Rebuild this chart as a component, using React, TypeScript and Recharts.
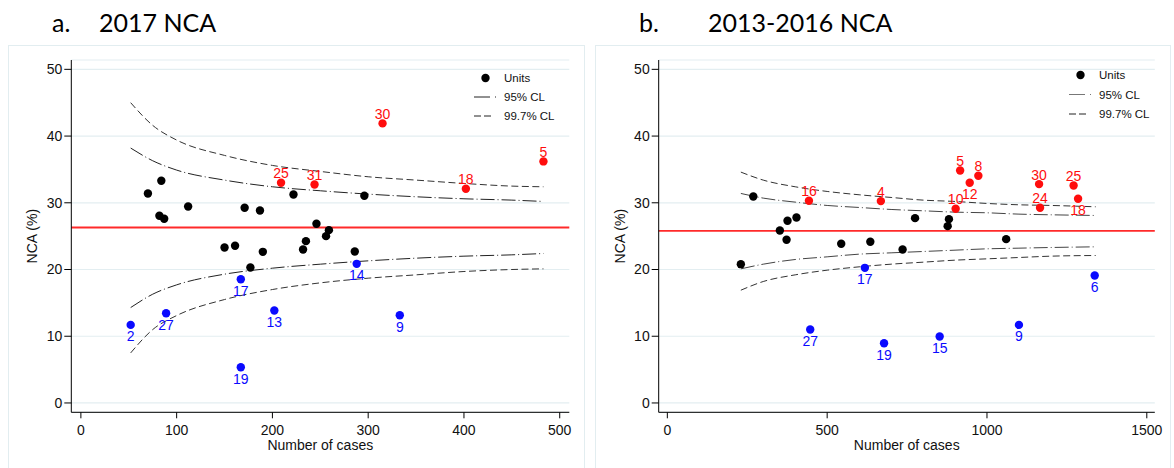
import React from "react";
import {
  CartesianGrid,
  ComposedChart,
  Line,
  ReferenceLine,
  Scatter,
  XAxis,
  YAxis,
} from "recharts";

const FONT = '"Liberation Sans", Arial, sans-serif';
const TITLE_FONT = 'Lato, "Open Sans", sans-serif';

const yTicks = [0, 10, 20, 30, 40, 50];
const aTicks = [0, 100, 200, 300, 400, 500];
const bTicks = [0, 500, 1000, 1500];

// panel a: 2017
const aMean = 26.3;
const aUnitCases = [70, 84, 82, 87, 112, 150, 161, 171, 177, 187, 190, 222, 232, 235, 246, 256, 259, 286, 296];
const aUnitNca = [31.4, 33.3, 28.05, 27.6, 29.45, 23.3, 23.55, 29.25, 20.3, 28.85, 22.65, 31.25, 23.0, 24.25, 26.85, 25.0, 25.9, 22.7, 31.05];
const aHighIds = ["25", "31", "30", "18", "5"];
const aHighCases = [209, 244, 315, 402, 483];
const aHighNca = [33.0, 32.75, 41.9, 32.1, 36.2];
const aLowIds = ["2", "27", "17", "19", "13", "14", "9"];
const aLowCases = [52, 89, 167, 167, 202, 288, 333];
const aLowNca = [11.7, 13.45, 18.55, 5.35, 13.85, 20.85, 13.15];
const aClCases = [52, 75, 100, 150, 200, 250, 300, 350, 400, 450, 483];
const aUpper95 = [38.2, 36.3, 34.9, 33.4, 32.4, 31.8, 31.3, 30.9, 30.6, 30.4, 30.2];
const aLower95 = [14.3, 16.3, 17.7, 19.3, 20.2, 20.8, 21.3, 21.7, 22.0, 22.2, 22.4];
const aUpper997 = [45.0, 41.6, 39.4, 37.1, 35.6, 34.7, 33.9, 33.4, 32.9, 32.5, 32.4];
const aLower997 = [7.5, 11.0, 13.1, 15.5, 17.0, 18.0, 18.7, 19.2, 19.7, 20.0, 20.1];

// panel b: 2013-2016
const bMean = 25.8;
const bUnitCases = [230, 269, 352, 373, 376, 404, 544, 635, 736, 775, 877, 881, 1060];
const bUnitNca = [20.8, 30.95, 25.85, 24.45, 27.3, 27.8, 23.85, 24.15, 23.0, 27.7, 26.5, 27.55, 24.55];
const bHighIds = ["16", "4", "10", "5", "12", "8", "30", "24", "25", "18"];
const bHighCases = [443, 668, 902, 916, 946, 973, 1163, 1166, 1271, 1285];
const bHighNca = [30.3, 30.25, 29.1, 34.85, 33.0, 34.05, 32.8, 29.25, 32.6, 30.6];
const bHighBelow = ["12", "18"];
const bLowIds = ["27", "17", "19", "15", "9", "6"];
const bLowCases = [447, 618, 678, 852, 1100, 1337];
const bLowNca = [11.0, 20.25, 8.95, 9.95, 11.7, 19.1];
const bClCases = [230, 300, 400, 500, 600, 700, 800, 900, 1000, 1100, 1200, 1340];
const bUpper95 = [31.4, 30.7, 30.1, 29.6, 29.3, 29.0, 28.8, 28.6, 28.5, 28.3, 28.2, 28.1];
const bLower95 = [20.1, 20.8, 21.5, 21.9, 22.3, 22.5, 22.7, 22.9, 23.1, 23.2, 23.3, 23.4];
const bUpper997 = [34.6, 33.4, 32.4, 31.7, 31.2, 30.8, 30.4, 30.2, 29.9, 29.7, 29.6, 29.4];
const bLower997 = [16.9, 18.2, 19.2, 19.9, 20.4, 20.8, 21.1, 21.4, 21.6, 21.8, 22.0, 22.1];

type Pt = { x: number; y: number; id?: string };

const toPts = (xs: number[], ys: number[], ids?: string[]): Pt[] =>
  xs.map((x, i) => ({ x, y: ys[i], id: ids ? ids[i] : undefined }));

const toCl = (xs: number[], u95: number[], l95: number[], u997: number[], l997: number[]) =>
  xs.map((x, i) => ({ x, u95: u95[i], l95: l95[i], u997: u997[i], l997: l997[i] }));

const RED = "#ff0d0d";
const MEAN_RED = "#ff2a2a";
const BLUE = "#0a0aff";

function dotShape(fill: string, labelled: boolean, below: string[] | "all") {
  return (props: any) => {
    const { cx, cy, payload } = props;
    if (cx == null || cy == null) return <g />;
    const isBelow = below === "all" || below.includes(payload.id);
    return (
      <g>
        <circle cx={cx} cy={cy} r={4.2} fill={fill} />
        {labelled && (
          <text
            x={cx}
            y={isBelow ? cy + 16.5 : cy - 4.5}
            textAnchor="middle"
            fill={fill}
            fontSize={14}
            fontFamily={FONT}
          >
            {payload.id}
          </text>
        )}
      </g>
    );
  };
}

type PanelProps = {
  left: number;
  width: number;
  plotLeft: number;
  plotRight: number;
  xDomain: [number, number];
  xTicks: number[];
  mean: number;
  cl: ReturnType<typeof toCl>;
  units: Pt[];
  high: Pt[];
  low: Pt[];
  highBelow: string[];
  color95: string;
};

function Panel(p: PanelProps) {
  const yAxisW = 50;
  const xAxisH = 37.5;
  const plotTop = 60;
  const plotBottom = 412.3;
  const tickStyle = { fill: "#111", fontSize: 14, fontFamily: FONT };
  return (
    <div style={{ position: "absolute", left: p.left, top: 0, width: p.width, height: 468 }}>
      <ComposedChart
        width={p.width}
        height={468}
        data={p.cl}
        margin={{
          top: plotTop,
          right: p.width - p.plotRight,
          left: p.plotLeft - yAxisW,
          bottom: 468 - plotBottom - xAxisH,
        }}
      >
        <CartesianGrid vertical={false} stroke="#e3eef1" strokeWidth={1.2} />
        <XAxis
          type="number"
          dataKey="x"
          domain={p.xDomain}
          ticks={p.xTicks}
          interval={0}
          allowDataOverflow
          height={xAxisH}
          tickSize={6}
          tickMargin={7}
          axisLine={{ stroke: "#000" }}
          tickLine={{ stroke: "#000" }}
          tick={tickStyle}
          label={{ value: "Number of cases", position: "insideBottom", offset: 0, ...tickStyle }}
        />
        <YAxis
          type="number"
          domain={[-1.4, 51.4]}
          ticks={yTicks}
          interval={0}
          allowDataOverflow
          width={yAxisW}
          tickSize={7}
          tickMargin={2}
          axisLine={{ stroke: "#000" }}
          tickLine={{ stroke: "#000" }}
          tick={tickStyle}
          label={{
            value: "NCA (%)",
            angle: -90,
            position: "insideLeft",
            offset: 11,
            style: { textAnchor: "middle" },
            ...tickStyle,
          }}
        />
        <ReferenceLine y={p.mean} stroke={MEAN_RED} strokeWidth={1.8} />
        <Line type="monotone" dataKey="u95" stroke={p.color95} strokeWidth={1} strokeDasharray="14 3 1 3" dot={false} activeDot={false} isAnimationActive={false} />
        <Line type="monotone" dataKey="l95" stroke={p.color95} strokeWidth={1} strokeDasharray="14 3 1 3" dot={false} activeDot={false} isAnimationActive={false} />
        <Line type="monotone" dataKey="u997" stroke="#333" strokeWidth={1} strokeDasharray="7 3.5" dot={false} activeDot={false} isAnimationActive={false} />
        <Line type="monotone" dataKey="l997" stroke="#333" strokeWidth={1} strokeDasharray="7 3.5" dot={false} activeDot={false} isAnimationActive={false} />
        <Scatter data={p.units} dataKey="y" shape={dotShape("#000", false, [])} isAnimationActive={false} />
        <Scatter data={p.high} dataKey="y" shape={dotShape(RED, true, p.highBelow)} isAnimationActive={false} />
        <Scatter data={p.low} dataKey="y" shape={dotShape(BLUE, true, "all")} isAnimationActive={false} />
      </ComposedChart>
    </div>
  );
}

function LegendBox({ x, y, gap, color95 }: { x: number; y: number; gap: number; color95: string }) {
  const txt = { fontSize: 11.5, fontFamily: FONT, fill: "#111" };
  return (
    <g>
      <circle cx={x + 11.5} cy={y} r={4.2} fill="#000" />
      <text x={x + 30} y={y + 4} {...txt}>Units</text>
      <line x1={x} x2={x + 16} y1={y + gap} y2={y + gap} stroke={color95} strokeWidth={1} />
      <line x1={x + 21} x2={x + 22} y1={y + gap} y2={y + gap} stroke={color95} strokeWidth={1} />
      <text x={x + 30} y={y + gap + 4} {...txt}>95% CL</text>
      <line x1={x} x2={x + 17} y1={y + 2 * gap} y2={y + 2 * gap} stroke="#222" strokeWidth={1} strokeDasharray="7 3" />
      <text x={x + 30} y={y + 2 * gap + 4} {...txt}>99.7% CL</text>
    </g>
  );
}

export default function App() {
  return (
    <div
      style={{
        position: "absolute",
        left: 0,
        top: 0,
        width: 1174,
        height: 468,
        background: "#fff",
        overflow: "hidden",
      }}
    >
      <div style={{ position: "absolute", left: 8, top: 45, width: 575, height: 440, border: "1px solid #e2edf0" }} />
      <div style={{ position: "absolute", left: 595, top: 45, width: 574, height: 440, border: "1px solid #e2edf0" }} />
      <Panel
        left={0}
        width={590}
        plotLeft={71.3}
        plotRight={569.3}
        xDomain={[-10, 510]}
        xTicks={aTicks}
        mean={aMean}
        cl={toCl(aClCases, aUpper95, aLower95, aUpper997, aLower997)}
        units={toPts(aUnitCases, aUnitNca)}
        high={toPts(aHighCases, aHighNca, aHighIds)}
        low={toPts(aLowCases, aLowNca, aLowIds)}
        highBelow={[]}
        color95="#222"
      />
      <Panel
        left={590}
        width={584}
        plotLeft={68.7}
        plotRight={564.8}
        xDomain={[-27, 1525]}
        xTicks={bTicks}
        mean={bMean}
        cl={toCl(bClCases, bUpper95, bLower95, bUpper997, bLower997)}
        units={toPts(bUnitCases, bUnitNca)}
        high={toPts(bHighCases, bHighNca, bHighIds)}
        low={toPts(bLowCases, bLowNca, bLowIds)}
        highBelow={bHighBelow}
        color95="#444"
      />
      <svg
        width={1174}
        height={468}
        style={{ position: "absolute", left: 0, top: 0, pointerEvents: "none" }}
      >
        <text x={52} y={32} fontSize={25} fontFamily={TITLE_FONT} fill="#000">a.</text>
        <text x={99} y={32} fontSize={25} fontFamily={TITLE_FONT} fill="#000">2017 NCA</text>
        <text x={639} y={32} fontSize={25} fontFamily={TITLE_FONT} fill="#000">b.</text>
        <text x={708} y={32} fontSize={25} fontFamily={TITLE_FONT} fill="#000">2013-2016 NCA</text>
        <LegendBox x={474} y={78} gap={19} color95="#222" />
        <LegendBox x={1069} y={75} gap={19.5} color95="#777" />
      </svg>
    </div>
  );
}
